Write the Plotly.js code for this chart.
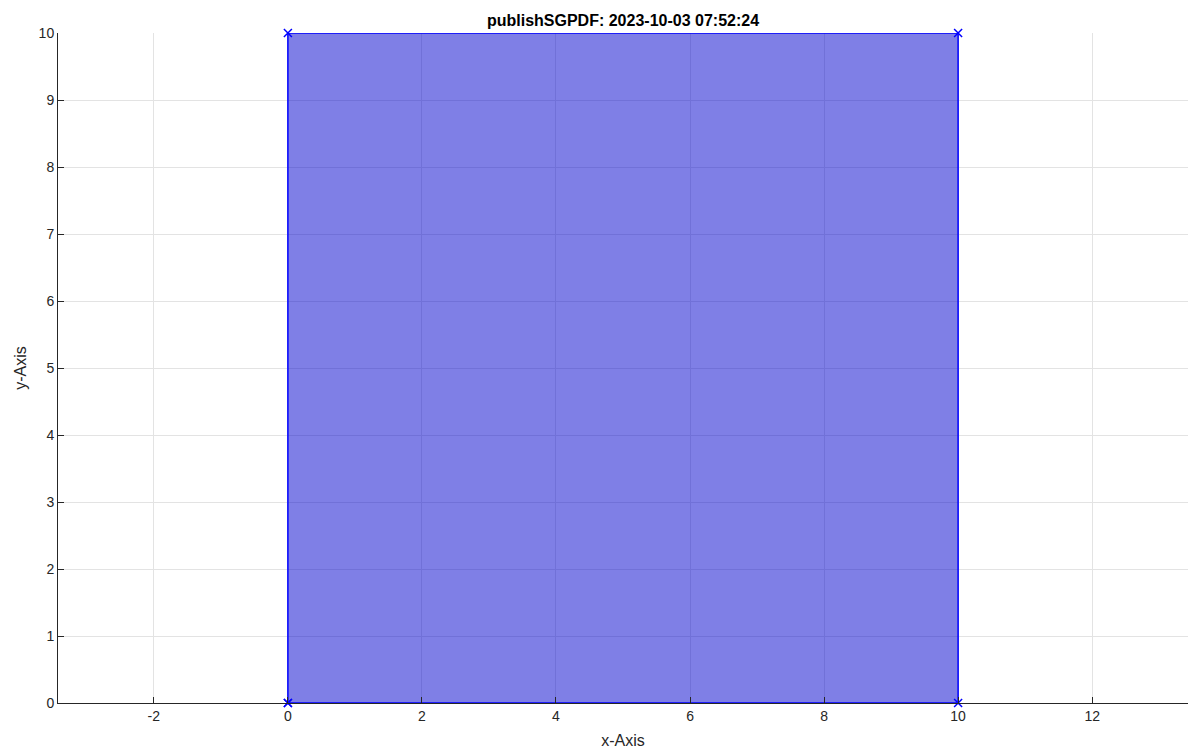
<!DOCTYPE html>
<html>
<head>
<meta charset="utf-8">
<script src="https://cdn.plot.ly/plotly-3.0.1.min.js"></script>
<style>html,body{margin:0;padding:0;background:#fff;}#chart{width:1188px;height:754px;}</style>
</head>
<body>
<div id="chart"></div>
<script>
const polyX = [0, 10, 10, 0, 0];
const polyY = [0, 0, 10, 10, 0];
const xTicks = [-2, 0, 2, 4, 6, 8, 10, 12];
const yTicks = [0, 1, 2, 3, 4, 5, 6, 7, 8, 9, 10];
const titleText = 'publishSGPDF: 2023-10-03 07:52:24';

const font = 'Liberation Sans, Arial, Helvetica, sans-serif';
const axisCommon = {
  showline: true, linecolor: '#262626', linewidth: 1,
  ticks: 'inside', ticklen: 6, tickcolor: '#262626', tickwidth: 1,
  showgrid: true, gridcolor: '#e3e3e3', gridwidth: 1,
  zeroline: false, mirror: false,
  tickfont: {family: font, size: 14, color: '#262626'}
};

const data = [{
  type: 'scatter', mode: 'lines+markers',
  x: polyX, y: polyY, fill: 'toself',
  fillcolor: 'rgba(0,0,205,0.5)',
  line: {color: '#0000ff', width: 1.5},
  marker: {symbol: 'x-thin', size: 8, color: '#0000ff', line: {color: '#0000ff', width: 1.5}},
  cliponaxis: false,
  hoverinfo: 'skip', showlegend: false
}];

const layout = {
  width: 1188, height: 754,
  margin: {l: 58, r: 0, t: 33, b: 50.5},
  paper_bgcolor: '#fff', plot_bgcolor: '#fff',
  title: {text: '<b>' + titleText + '</b>', font: {family: font, size: 16, color: '#000'},
          x: 0.5, xref: 'paper', xanchor: 'center', y: 1 - 20/754, yref: 'container', yanchor: 'middle'},
  xaxis: Object.assign({}, axisCommon, {
    range: [-3.43, 13.43], tickvals: xTicks, ticktext: xTicks.map(String),
    title: {text: 'x-Axis', font: {family: font, size: 16, color: '#262626'}, standoff: 12}
  }),
  yaxis: Object.assign({}, axisCommon, {
    range: [0, 10], tickvals: yTicks, ticktext: yTicks.map(String),
    title: {text: 'y-Axis', font: {family: font, size: 16, color: '#262626'}, standoff: 8}
  }),
  showlegend: false
};

Plotly.newPlot('chart', data, layout, {displayModeBar: false, staticPlot: true});
</script>
</body>
</html>
